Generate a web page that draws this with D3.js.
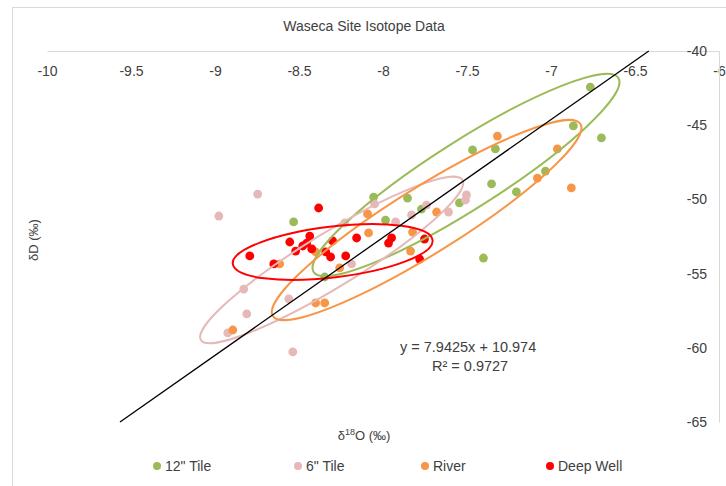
<!DOCTYPE html>
<html>
<head>
<meta charset="utf-8">
<script src="https://cdn.jsdelivr.net/npm/d3@7"></script>
<style>
  body { margin: 0; background: #fff; }
  svg text { font-family: "Liberation Sans", Arial, sans-serif; fill: #404040; }
</style>
</head>
<body>
<div id="chart"></div>
<script>
// ── data ──
const xTicks = [-10, -9.5, -9, -8.5, -8, -7.5, -7, -6.5, -6];
const yTicks = [-40, -45, -50, -55, -60, -65];

const seriesNames = ['12" Tile', '6" Tile', "River", "Deep Well"];
const seriesColors = ["#9bbb59", "#e6b9b8", "#f79646", "#ff0000"];

const tile12 = [
  [-6.766, -42.43], [-6.867, -45.05], [-6.700, -45.86], [-7.467, -46.67],
  [-7.331, -46.60], [-7.033, -48.09], [-7.354, -48.96], [-7.206, -49.50],
  [-7.545, -50.24], [-7.402, -53.95], [-8.056, -49.84], [-7.854, -49.91],
  [-7.771, -50.65], [-7.985, -51.39], [-8.532, -51.52], [-8.347, -55.23]
];
const tile6 = [
  [-8.746, -49.64], [-8.977, -51.12], [-8.829, -56.04], [-8.811, -57.72],
  [-8.924, -59.00], [-8.537, -60.28], [-8.561, -56.71], [-8.228, -51.59],
  [-8.187, -54.35], [-8.050, -50.31], [-7.925, -51.52], [-7.830, -51.05],
  [-7.741, -50.38], [-7.610, -50.85], [-7.503, -49.70], [-7.509, -50.04]
];
const river = [
  [-7.319, -45.73], [-6.962, -46.60], [-7.081, -48.56], [-6.879, -49.23],
  [-7.681, -50.85], [-7.824, -52.20], [-7.836, -53.48], [-8.092, -50.98],
  [-8.086, -52.26], [-8.401, -53.54], [-8.615, -54.35], [-8.258, -54.62],
  [-8.401, -56.98], [-8.347, -56.98], [-8.894, -58.80]
];
const deepWell = [
  [-8.383, -50.58], [-8.555, -52.87], [-8.436, -52.47], [-8.454, -52.94],
  [-8.478, -53.14], [-8.520, -53.48], [-8.424, -53.34], [-8.300, -52.80],
  [-8.341, -53.54], [-8.312, -53.88], [-8.222, -53.81], [-8.157, -52.60],
  [-7.949, -52.60], [-7.967, -52.94], [-7.753, -52.67], [-7.782, -54.02],
  [-8.793, -53.81], [-8.650, -54.35]
];

// ellipse outlines: two ends of the long axis (data units) and short/long ratio
const ellipseEnds = [
  [[-6.599, -41.82], [-8.413, -54.89]],
  [[-7.527, -48.69], [-9.084, -59.47]],
  [[-6.825, -44.92], [-8.656, -57.86]],
  [[-7.705, -52.74], [-8.894, -54.35]]
];
const ellipseRatio = [0.188, 0.176, 0.183, 0.253];

const fitSlope = 7.9425;
const fitIntercept = 10.974;
const fitLabel = "y = 7.9425x + 10.974";
const r2Label = "R² = 0.9727";

// ── layout ──
const width = 726, height = 486;
const svg = d3.select("#chart").append("svg")
  .attr("width", width)
  .attr("height", height);

svg.append("rect")
  .attr("x", 12.5).attr("y", 7.5)
  .attr("width", 730).attr("height", 490)
  .attr("fill", "none")
  .attr("stroke", "#d9d9d9");

const x = d3.scaleLinear().domain([-10, -6]).range([47, 719]);
const y = d3.scaleLinear().domain([-40, -65]).range([51, 422]);

svg.append("text")
  .attr("x", 364).attr("y", 31)
  .attr("text-anchor", "middle")
  .style("font-size", "14px")
  .text("Waseca Site Isotope Data");

/* ─── axes ─── */
const xAxis = svg.append("g")
  .attr("transform", `translate(0,${y(-40)})`)
  .call(d3.axisBottom(x).tickValues(xTicks).tickFormat(d => String(d))
    .tickSize(0).tickSizeOuter(0).tickPadding(15));

const yAxis = svg.append("g")
  .attr("transform", `translate(${x(-6)},0)`)
  .call(d3.axisLeft(y).tickValues(yTicks).tickFormat(d => String(d))
    .tickSize(0).tickSizeOuter(0).tickPadding(12));

[xAxis, yAxis].forEach(ax => {
  ax.select(".domain").attr("stroke", "#d9d9d9");
  ax.selectAll("text")
    .style("font-size", "14px")
    .style("font-family", "Liberation Sans, Arial, sans-serif")
    .attr("fill", "#404040");
});

svg.append("text")
  .attr("transform", "translate(38,240) rotate(-90)")
  .attr("text-anchor", "middle")
  .style("font-size", "13px")
  .text("δD (‰)");

const xTitle = svg.append("text")
  .attr("x", 364).attr("y", 440)
  .attr("text-anchor", "middle")
  .style("font-size", "13px");
xTitle.append("tspan").text("δ");
xTitle.append("tspan").attr("dy", -5).style("font-size", "9px").text("18");
xTitle.append("tspan").attr("dy", 5).text("O (‰)");

/* ─── points ─── */
const allSeries = [tile12, tile6, river, deepWell];
allSeries.forEach((pts, i) => {
  svg.append("g").selectAll("circle")
    .data(pts)
    .enter()
    .append("circle")
    .attr("cx", d => x(d[0]))
    .attr("cy", d => y(d[1]))
    .attr("r", 4.4)
    .attr("fill", seriesColors[i]);
});

/* ─── ellipses ─── */
ellipseEnds.forEach((ends, i) => {
  const x1 = x(ends[0][0]), y1 = y(ends[0][1]);
  const x2 = x(ends[1][0]), y2 = y(ends[1][1]);
  const cx = (x1 + x2) / 2, cy = (y1 + y2) / 2;
  const a = Math.hypot(x1 - x2, y1 - y2) / 2;
  const ang = Math.atan2(y1 - y2, x1 - x2) * 180 / Math.PI;
  svg.append("ellipse")
    .attr("cx", cx).attr("cy", cy)
    .attr("rx", a).attr("ry", a * ellipseRatio[i])
    .attr("transform", `rotate(${ang},${cx},${cy})`)
    .attr("fill", "none")
    .attr("stroke", seriesColors[i])
    .attr("stroke-width", 2);
});

/* ─── fit line ─── */
const yEnds = [-65, -40];
svg.append("line")
  .attr("x1", x((yEnds[0] - fitIntercept) / fitSlope))
  .attr("y1", y(yEnds[0]))
  .attr("x2", x((yEnds[1] - fitIntercept) / fitSlope))
  .attr("y2", y(yEnds[1]))
  .attr("stroke", "#000")
  .attr("stroke-width", 1.3);

svg.append("text")
  .attr("x", 400).attr("y", 352)
  .style("font-size", "14.5px")
  .attr("fill", "#000")
  .text(fitLabel);
svg.append("text")
  .attr("x", 432).attr("y", 371)
  .style("font-size", "14.5px")
  .attr("fill", "#000")
  .text(r2Label);

/* ─── legend ─── */
const legendX = [157, 298, 425, 550];
const legend = svg.append("g");
seriesNames.forEach((name, i) => {
  legend.append("circle")
    .attr("cx", legendX[i]).attr("cy", 466)
    .attr("r", 4)
    .attr("fill", seriesColors[i]);
  legend.append("text")
    .attr("x", legendX[i] + 8).attr("y", 471)
    .style("font-size", "14px")
    .text(name);
});
</script>
</body>
</html>
